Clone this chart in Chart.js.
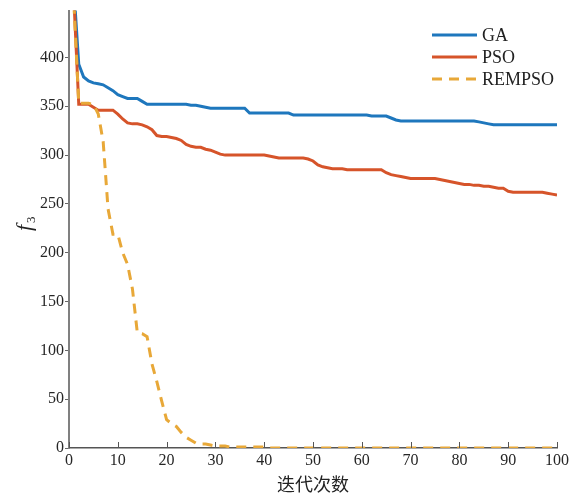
<!DOCTYPE html>
<html><head><meta charset="utf-8">
<script src="https://cdn.jsdelivr.net/npm/chart.js@4.4.1/dist/chart.umd.min.js"></script>
<style>html,body{margin:0;padding:0;background:#fff;}canvas{display:block;}</style>
</head><body>
<canvas id="c" width="577" height="497"></canvas>
<script>
const seriesNames = ['GA', 'PSO', 'REMPSO'];
const gaValues = [
  470, 393, 380, 376, 374, 373, 372, 369, 366, 362,
  360, 358, 358, 358, 355, 352, 352, 352, 352, 352,
  352, 352, 352, 352, 351, 351, 350, 349, 348, 348,
  348, 348, 348, 348, 348, 348, 343, 343, 343, 343,
  343, 343, 343, 343, 343, 341, 341, 341, 341, 341,
  341, 341, 341, 341, 341, 341, 341, 341, 341, 341,
  341, 340, 340, 340, 340, 338, 336, 335, 335, 335,
  335, 335, 335, 335, 335, 335, 335, 335, 335, 335,
  335, 335, 335, 334, 333, 332, 331, 331, 331, 331,
  331, 331, 331, 331, 331, 331, 331, 331, 331, 331
];
const psoValues = [
  460, 352, 352, 352, 349, 346, 346, 346, 346, 342,
  337, 333, 332, 332, 331, 329, 326, 320, 319, 319,
  318, 317, 315, 311, 309, 308, 308, 306, 305, 303,
  301, 300, 300, 300, 300, 300, 300, 300, 300, 300,
  299, 298, 297, 297, 297, 297, 297, 297, 296, 294,
  290, 288, 287, 286, 286, 286, 285, 285, 285, 285,
  285, 285, 285, 285, 282, 280, 279, 278, 277, 276,
  276, 276, 276, 276, 276, 275, 274, 273, 272, 271,
  270, 270, 269, 269, 268, 268, 267, 266, 266, 263,
  262, 262, 262, 262, 262, 262, 262, 261, 260, 259
];
const rempsoValues = [
  455, 353, 353, 353, 352, 342, 314, 245, 219, 219,
  200, 188, 163, 118, 117, 114, 86, 68, 48, 29,
  25, 22, 16, 11, 8, 5, 4, 4, 3, 2,
  2, 2, 1, 1, 1, 1, 1, 1, 1, 1,
  0, 0, 0, 0, 0, 0, 0, 0, 0, 0,
  0, 0, 0, 0, 0, 0, 0, 0, 0, 0,
  0, 0, 0, 0, 0, 0, 0, 0, 0, 0,
  0, 0, 0, 0, 0, 0, 0, 0, 0, 0,
  0, 0, 0, 0, 0, 0, 0, 0, 0, 0,
  0, 0, 0, 0, 0, 0, 0, 0, 0, 0
];
const xTickValues = [0, 10, 20, 30, 40, 50, 60, 70, 80, 90, 100];
const yTickValues = [0, 50, 100, 150, 200, 250, 300, 350, 400];
const xAxisTitle = '迭代次数';
const yAxisTitleMain = 'f';
const yAxisTitleSub = '3';

const colors = ['#1E77BD', '#D6542A', '#E8A838'];
const dashes = [[], [], [10, 7]];
const allSeries = [gaValues, psoValues, rempsoValues];

function toPoints(vals) { return vals.map((v, i) => ({ x: i + 1, y: v })); }

const serif = "'Liberation Serif', 'Times New Roman', serif";

const extras = {
  id: 'extras',
  afterDraw(chart) {
    const ctx = chart.ctx;
    const xs = chart.scales.x;
    const area = chart.chartArea;
    ctx.save();
    // inward x ticks
    ctx.strokeStyle = '#555';
    ctx.lineWidth = 1;
    xTickValues.forEach(v => {
      const px = Math.round(xs.getPixelForValue(v)) + 0.5;
      ctx.beginPath();
      ctx.moveTo(px, area.bottom);
      ctx.lineTo(px, area.bottom - 6);
      ctx.stroke();
    });
    // y title
    ctx.save();
    ctx.translate(31, 222);
    ctx.rotate(-Math.PI / 2);
    ctx.fillStyle = '#222';
    ctx.textBaseline = 'alphabetic';
    ctx.textAlign = 'left';
    ctx.font = 'italic 22px ' + serif;
    ctx.fillText(yAxisTitleMain, -9, 0);
    ctx.font = '13px ' + serif;
    ctx.fillText(yAxisTitleSub, -1, 4);
    ctx.restore();
    // legend
    const lx0 = 432, lx1 = 477, ly = [35, 57, 79];
    chart.data.datasets.forEach((ds, i) => {
      ctx.save();
      ctx.strokeStyle = ds.borderColor;
      ctx.lineWidth = ds.borderWidth;
      ctx.setLineDash(ds.borderDash || []);
      ctx.beginPath();
      ctx.moveTo(lx0, ly[i]);
      ctx.lineTo(lx1, ly[i]);
      ctx.stroke();
      ctx.restore();
      ctx.fillStyle = '#222';
      ctx.font = '18px ' + serif;
      ctx.textBaseline = 'middle';
      ctx.textAlign = 'left';
      ctx.fillText(ds.label, lx1 + 5, ly[i] + 1);
    });
    ctx.restore();
  }
};

new Chart(document.getElementById('c'), {
  type: 'line',
  data: {
    datasets: seriesNames.map((name, i) => ({
      label: name,
      data: toPoints(allSeries[i]),
      borderColor: colors[i],
      backgroundColor: colors[i],
      borderWidth: 3,
      borderDash: dashes[i],
      pointRadius: 0,
      tension: 0,
      fill: false,
      order: 3 - i
    }))
  },
  options: {
    responsive: false,
    animation: false,
    devicePixelRatio: 1,
    layout: { padding: { left: 0, right: 20, top: 9, bottom: 0 } },
    plugins: { legend: { display: false }, tooltip: { enabled: false } },
    scales: {
      x: {
        type: 'linear',
        min: 0, max: 100,
        afterBuildTicks(scale) { scale.ticks = xTickValues.map(v => ({ value: v })); },
        afterFit(scale) { scale.height = 49; },
        ticks: { color: '#262626', font: { family: serif, size: 16 }, padding: 3, maxRotation: 0 },
        grid: { display: true, drawOnChartArea: false, drawTicks: false, color: '#555' },
        border: { display: true, color: '#555', width: 1.5 },
        title: { display: true, text: xAxisTitle, color: '#222', font: { family: "'Noto Sans CJK SC', sans-serif", size: 18 }, padding: { top: 0, bottom: 2 } }
      },
      y: {
        type: 'linear',
        min: 0, max: 448,
        afterBuildTicks(scale) { scale.ticks = yTickValues.map(v => ({ value: v })); },
        afterFit(scale) { scale.width = 69; },
        ticks: { color: '#262626', font: { family: serif, size: 16 }, padding: 1 },
        grid: { display: true, drawOnChartArea: false, drawTicks: true, tickLength: 4, color: '#666' },
        border: { display: true, color: '#808080', width: 2 }
      }
    }
  },
  plugins: [extras]
});
</script>
</body></html>
